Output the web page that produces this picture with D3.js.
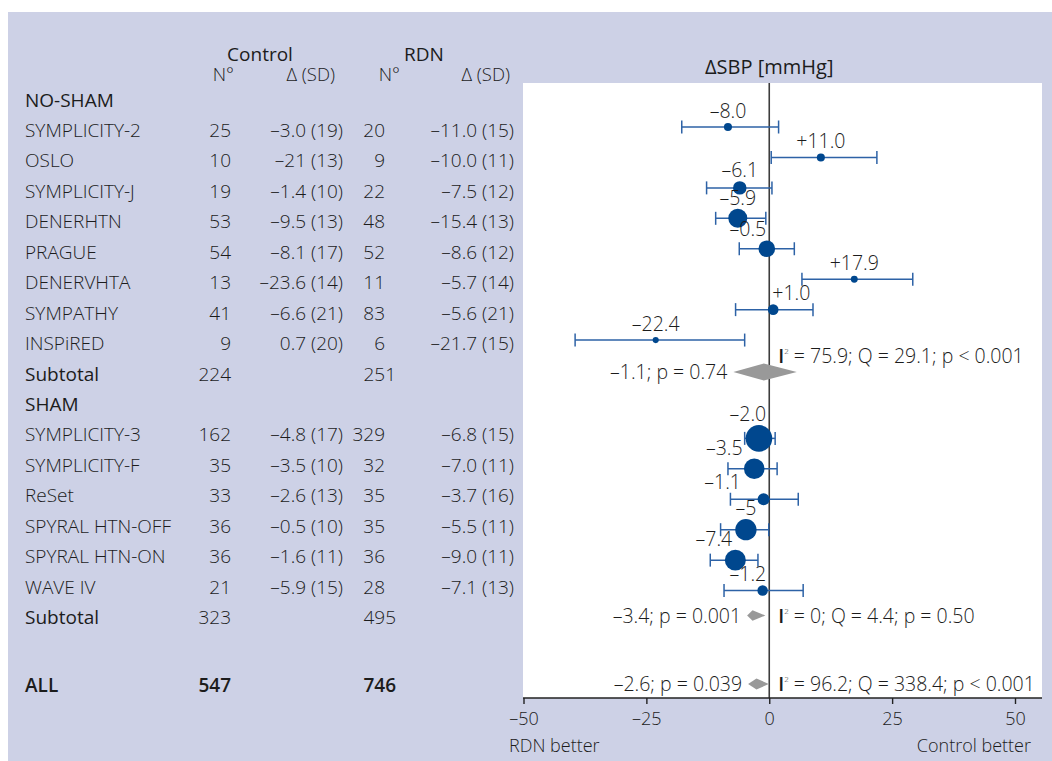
<!DOCTYPE html>
<html>
  <head>
    <meta charset="utf-8">
    <script src="https://d3js.org/d3.v7.min.js"></script>
    <style>
      body { margin: 0; background: #fff; }
      svg text { font-family: "Open Sans", "Noto Sans", sans-serif; fill: #1c1c1c; }
    </style>
  </head>
  <body>
    <svg id="chart" width="1052" height="761"></svg>
    <script>
        // study rows (NO-SHAM first 8, SHAM next 6)
        var studies = ["SYMPLICITY-2", "OSLO", "SYMPLICITY-J", "DENERHTN", "PRAGUE", "DENERVHTA", "SYMPATHY", "INSPiRED",
                       "SYMPLICITY-3", "SYMPLICITY-F", "ReSet", "SPYRAL HTN-OFF", "SPYRAL HTN-ON", "WAVE IV"];
        var groups = ["NO-SHAM", "NO-SHAM", "NO-SHAM", "NO-SHAM", "NO-SHAM", "NO-SHAM", "NO-SHAM", "NO-SHAM",
                      "SHAM", "SHAM", "SHAM", "SHAM", "SHAM", "SHAM"];
        var ctrlN = [25, 10, 19, 53, 54, 13, 41, 9, 162, 35, 33, 36, 36, 21];
        var ctrlDelta = ["–3.0 (19)", "–21 (13)", "–1.4 (10)", "–9.5 (13)", "–8.1 (17)", "–23.6 (14)", "–6.6 (21)", "0.7 (20)",
                         "–4.8 (17)", "–3.5 (10)", "–2.6 (13)", "–0.5 (10)", "–1.6 (11)", "–5.9 (15)"];
        var rdnN = [20, 9, 22, 48, 52, 11, 83, 6, 329, 32, 35, 35, 36, 28];
        var rdnDelta = ["–11.0 (15)", "–10.0 (11)", "–7.5 (12)", "–15.4 (13)", "–8.6 (12)", "–5.7 (14)", "–5.6 (21)", "–21.7 (15)",
                        "–6.8 (15)", "–7.0 (11)", "–3.7 (16)", "–5.5 (11)", "–9.0 (11)", "–7.1 (13)"];

        // effect (Δ SBP difference) with 95% CI, as drawn
        var effect = [-8.4, 10.5, -6.0, -6.4, -0.5, 17.3, 0.8, -23.1, -2.1, -3.05, -1.15, -4.75, -6.9, -1.35];
        var lower = [-17.8, 0.4, -12.75, -10.9, -6.1, 6.65, -6.85, -39.5, -5.0, -8.4, -7.9, -9.9, -12.0, -9.2];
        var upper = [1.9, 21.9, 0.55, -0.7, 5.1, 29.2, 8.9, -5.0, 1.2, 1.6, 5.9, -0.1, -2.3, 6.9];
        var effectLabels = ["–8.0", "+11.0", "–6.1", "–5.9", "–0.5", "+17.9", "+1.0", "–22.4",
                            "–2.0", "–3.5", "–1.1", "–5", "–7.4", "–1.2"];
        var weights = [1.9, 1.9, 5.3, 10.5, 8.1, 1.4, 3.3, 1.1, 20.7, 12.4, 4.2, 13.3, 12.9, 3.2];

        // pooled rows
        var poolNames = ["Subtotal", "Subtotal", "ALL"];
        var poolCtrlN = [224, 323, 547];
        var poolRdnN = [251, 495, 746];
        var poolEffect = [-1.1, -3.4, -2.6];
        var poolLower = [-7.3, -4.5, -4.3];
        var poolUpper = [5.6, -0.8, -0.1];
        var poolLabels = ["–1.1; p = 0.74", "–3.4; p = 0.001", "–2.6; p = 0.039"];
        var poolI2 = ["75.9", "0", "96.2"];
        var poolQ = ["29.1", "4.4", "338.4"];
        var poolP = ["p < 0.001", "p = 0.50", "p < 0.001"];

        var groupNames = ["NO-SHAM", "SHAM"];
        var xTicks = [-50, -25, 0, 25, 50];

        // build row list: header, studies, subtotal per group, then ALL
        var rows = [];
        var idx = 0;
        groupNames.forEach(function(g, gi) {
          rows.push({type: "group", name: g, i: idx++});
          studies.forEach(function(s, k) {
            if (groups[k] !== g) return;
            rows.push({type: "study", name: s, i: idx++, k: k, g: gi});
          });
          rows.push({type: "pool", name: poolNames[gi], i: idx++, k: gi});
        });
        rows.push({type: "pool", name: poolNames[2], i: idx + 1.25, k: 2});

        var svg = d3.select("#chart");

        svg.append("rect").attr("x", 8).attr("y", 12).attr("width", 1044).attr("height", 749).attr("fill", "#cdd1e6");

        var panel = {left: 523, right: 1042, top: 83, bottom: 698};
        svg.append("rect")
          .attr("x", panel.left).attr("y", panel.top)
          .attr("width", panel.right - panel.left).attr("height", panel.bottom - panel.top)
          .attr("fill", "#fff");

        var x = d3.scaleLinear().domain([-50, 50]).range([523.5, 1015]);
        var y = d3.scaleLinear().domain([1, 17]).range([130, 617]);
        var r = d3.scaleSqrt().domain([0, d3.max(weights)]).range([0, 13.3]);
        // markers sit a little above the text in the first block, a little below in the second
        var markY = function(d) { return y(d.i) + (d.g === 0 ? -3 : 4); };
        var labelFont = 19.5;
        var labelBase = function(d) { return markY(d) - Math.max(9, r(weights[d.k]) + 4); };

        // table headers
        svg.append("text").attr("x", 260).attr("y", 61).attr("text-anchor", "middle")
          .attr("font-size", 19).attr("font-weight", 500).text("Control");
        svg.append("text").attr("x", 424).attr("y", 61).attr("text-anchor", "middle")
          .attr("font-size", 19).attr("font-weight", 500).text("RDN");
        [["N°", 234], ["Δ (SD)", 335], ["N°", 400], ["Δ (SD)", 510]].forEach(function(h) {
          svg.append("text").attr("x", h[1]).attr("y", 81).attr("text-anchor", "end")
            .attr("font-size", 18.5).attr("font-weight", 300).text(h[0]);
        });
        svg.append("text").attr("x", x(0)).attr("y", 74).attr("text-anchor", "middle")
          .attr("font-size", 20).text("ΔSBP [mmHg]");

        // left table
        var table = svg.append("g").attr("font-size", 19).attr("font-weight", 300);
        rows.forEach(function(d) {
          var yy = y(d.i) + 7;
          var isAll = d.name === "ALL";
          table.append("text").attr("x", 25).attr("y", yy)
            .attr("font-weight", d.type === "study" ? 300 : (isAll ? 600 : 500)).text(d.name);
          if (d.type === "study") {
            table.append("text").attr("x", 231).attr("y", yy).attr("text-anchor", "end").text(ctrlN[d.k]);
            table.append("text").attr("x", 343).attr("y", yy).attr("text-anchor", "end").text(ctrlDelta[d.k]);
            table.append("text").attr("x", 385).attr("y", yy).attr("text-anchor", "end").text(rdnN[d.k]);
            table.append("text").attr("x", 514).attr("y", yy).attr("text-anchor", "end").text(rdnDelta[d.k]);
          } else if (d.type === "pool") {
            var w = isAll ? 600 : 300;
            table.append("text").attr("x", 231).attr("y", yy).attr("text-anchor", "end").attr("font-weight", w).text(poolCtrlN[d.k]);
            table.append("text").attr("x", 396).attr("y", yy).attr("text-anchor", "end").attr("font-weight", w).text(poolRdnN[d.k]);
          }
        });

        // zero line
        svg.append("line")
          .attr("x1", x(0)).attr("x2", x(0)).attr("y1", panel.top).attr("y2", panel.bottom)
          .attr("stroke", "#3c3c3c").attr("stroke-width", 1.6);

        // axis
        var axis = svg.append("g").attr("transform", "translate(0," + panel.bottom + ")")
          .call(d3.axisBottom(x).tickValues(xTicks).tickSize(6).tickSizeOuter(0)
            .tickFormat(function(d) { return d < 0 ? "–" + Math.abs(d) : d; }));
        axis.select(".domain").remove();
        axis.selectAll(".tick line").attr("stroke", "#222").attr("stroke-width", 1.4);
        axis.selectAll(".tick text").attr("font-size", 18).attr("dy", "1.0em")
          .attr("font-family", "Open Sans, sans-serif").attr("font-weight", 300).attr("fill", "#1c1c1c");
        svg.append("line").attr("x1", panel.left).attr("x2", panel.right)
          .attr("y1", panel.bottom).attr("y2", panel.bottom).attr("stroke", "#222").attr("stroke-width", 1.5);

        svg.append("text").attr("x", 509).attr("y", 752).attr("font-size", 18).attr("font-weight", 300).text("RDN better");
        svg.append("text").attr("x", 1031).attr("y", 752).attr("font-size", 18).attr("font-weight", 300)
          .attr("text-anchor", "end").text("Control better");

        var plot = svg.append("g");
        var studyRows = rows.filter(function(d) { return d.type === "study"; });

        // CI whiskers
        var ci = plot.selectAll("g.ci").data(studyRows).enter().append("g").attr("class", "ci")
          .attr("stroke", "#2d62a6").attr("stroke-width", 1.5);
        ci.append("line")
          .attr("x1", function(d) { return x(lower[d.k]); })
          .attr("x2", function(d) { return x(upper[d.k]); })
          .attr("y1", markY)
          .attr("y2", markY);
        ci.append("line")
          .attr("x1", function(d) { return x(lower[d.k]); })
          .attr("x2", function(d) { return x(lower[d.k]); })
          .attr("y1", function(d) { return markY(d) - 6.5; })
          .attr("y2", function(d) { return markY(d) + 6.5; });
        ci.append("line")
          .attr("x1", function(d) { return x(upper[d.k]); })
          .attr("x2", function(d) { return x(upper[d.k]); })
          .attr("y1", function(d) { return markY(d) - 6.5; })
          .attr("y2", function(d) { return markY(d) + 6.5; });

        plot.selectAll("circle").data(studyRows).enter().append("circle")
          .attr("cx", function(d) { return x(effect[d.k]); })
          .attr("cy", markY)
          .attr("r", function(d) { return r(weights[d.k]); })
          .attr("fill", "#00478e");

        // effect labels above the points: kept off the zero line and
        // moved left of a big marker in the row above when they would run into it
        plot.selectAll("text.est").data(studyRows).enter().append("text").attr("class", "est")
          .attr("font-size", labelFont).attr("font-weight", 300).attr("fill", "#222")
          .text(function(d) { return effectLabels[d.k]; })
          .attr("y", labelBase)
          .attr("x", function(d, i) {
            var w = this.getComputedTextLength();
            var left = x(effect[d.k]) - w / 2;
            if (effect[d.k] < 0) left = Math.min(left, x(0) - 3 - w);
            else left = Math.max(left, x(0) + 3);
            var prev = studyRows[i - 1];
            if (prev && prev.g === d.g && r(weights[prev.k]) > 10) {
              var pr = r(weights[prev.k]), px = x(effect[prev.k]);
              var top = labelBase(d) - 0.7 * labelFont;
              var overlapY = (markY(prev) + pr) - top > 3;
              if (overlapY && left < px + pr && left + w > px - pr) left = px - pr - 3 - w;
            }
            return left;
          });

        // pooled diamonds + stats
        var poolRows = rows.filter(function(d) { return d.type === "pool"; });
        poolRows.forEach(function(d) {
          var k = d.k, yy = y(d.i) - 1.5;
          var lo = x(poolLower[k]), hi = x(poolUpper[k]), mid = x(poolEffect[k]);
          var h = Math.min(8.5, 3.5 + (hi - lo) * 0.1);
          plot.append("path")
            .attr("d", "M" + lo + "," + yy + "L" + mid + "," + (yy - h) + "L" + hi + "," + yy + "L" + mid + "," + (yy + h) + "Z")
            .attr("fill", "#999");
          plot.append("text").attr("x", lo - 6).attr("y", yy + 7).attr("text-anchor", "end")
            .attr("font-size", labelFont).attr("font-weight", 300).text(poolLabels[k]);
          var ty = hi > x(0) ? yy - 9 : yy + 7;
          var t = plot.append("text").attr("x", x(0) + 9).attr("y", ty).attr("font-size", labelFont).attr("font-weight", 300);
          t.append("tspan").attr("font-weight", 600).text("I");
          t.append("tspan").attr("font-size", 8).attr("dy", -9).text("2");
          t.append("tspan").attr("dy", 9).text(" = " + poolI2[k] + "; Q = " + poolQ[k] + "; " + poolP[k]);
        });
    </script>
  </body>
</html>
